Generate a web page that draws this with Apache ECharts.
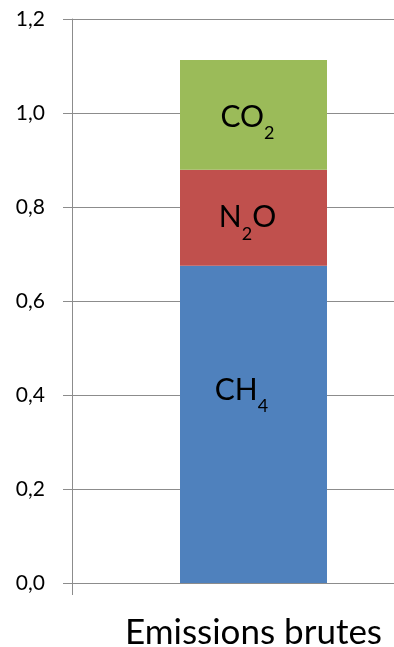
<!DOCTYPE html>
<html>
<head>
<meta charset="utf-8">
<style>
  html, body { margin: 0; padding: 0; background: #fff; overflow: hidden; }
  /* plot area runs past the right edge of the window */
  #chart { width: 435px; height: 647px; }
</style>
<script src="https://cdn.jsdelivr.net/npm/echarts@6/dist/echarts.min.js"></script>
</head>
<body>
<div id="chart"></div>
<script>
// Gross emissions split by gas
const categories = ['Emissions brutes'];
const ch4Values = [0.675];
const n2oValues = [0.204];
const co2Values = [0.234];

// Gas names drawn on the bar segments: main text + subscript
const gasLabels = {
  ch4: ['CH', '4', ''],
  n2o: ['N', '2', 'O'],
  co2: ['CO', '2', '']
};

const FONT = 'Lato, "Open Sans", sans-serif';
const AXIS_GREY = '#8c8c8c';

// subscripts hang at the bottom of a tall line
const richStyles = {
  m: { fontSize: 30, fontFamily: FONT, color: '#000', lineHeight: 50, verticalAlign: 'middle' },
  s: { fontSize: 18, fontFamily: FONT, color: '#000', lineHeight: 8, verticalAlign: 'bottom' }
};

function gasText(parts) {
  let t = '{m|' + parts[0] + '}{s|' + parts[1] + '}';
  if (parts[2]) t += '{m|' + parts[2] + '}';
  return t;
}

function segment(name, values, color, parts, offset) {
  return {
    name: name,
    type: 'bar',
    stack: 'total',
    data: values,
    barWidth: 147,
    itemStyle: { color: color },
    label: {
      show: true,
      position: 'inside',
      offset: offset,
      formatter: () => gasText(parts),
      rich: richStyles
    },
    emphasis: { disabled: true }
  };
}

const chart = echarts.init(document.getElementById('chart'), null, { renderer: 'canvas' });
chart.setOption({
  animation: false,
  backgroundColor: '#fff',
  grid: { left: 72, right: 0, top: 19, bottom: 64, containLabel: false, outerBoundsMode: 'none' },
  xAxis: {
    type: 'category',
    data: categories,
    axisLine: { lineStyle: { color: AXIS_GREY, width: 1 } },
    axisTick: { show: true, length: 12, lineStyle: { color: AXIS_GREY } },
    axisLabel: { fontSize: 35, fontFamily: FONT, color: '#000', margin: 32 },
    splitLine: { show: false }
  },
  yAxis: {
    type: 'value',
    min: 0,
    max: 1.2,
    interval: 0.2,
    axisLine: { show: true, lineStyle: { color: AXIS_GREY, width: 1 } },
    axisTick: { show: true, length: 9, lineStyle: { color: AXIS_GREY } },
    axisLabel: {
      fontSize: 21,
      fontFamily: FONT,
      color: '#000',
      margin: 27,
      formatter: v => v.toFixed(1).replace('.', ',')
    },
    splitLine: { show: true, lineStyle: { color: AXIS_GREY, width: 1 } }
  },
  series: [
    segment('CH4', ch4Values, '#4F81BD', gasLabels.ch4, [-12, -34]),
    segment('N2O', n2oValues, '#C0504D', gasLabels.n2o, [-6, 0]),
    segment('CO2', co2Values, '#9BBB59', gasLabels.co2, [-6, 2])
  ]
});
</script>
</body>
</html>
